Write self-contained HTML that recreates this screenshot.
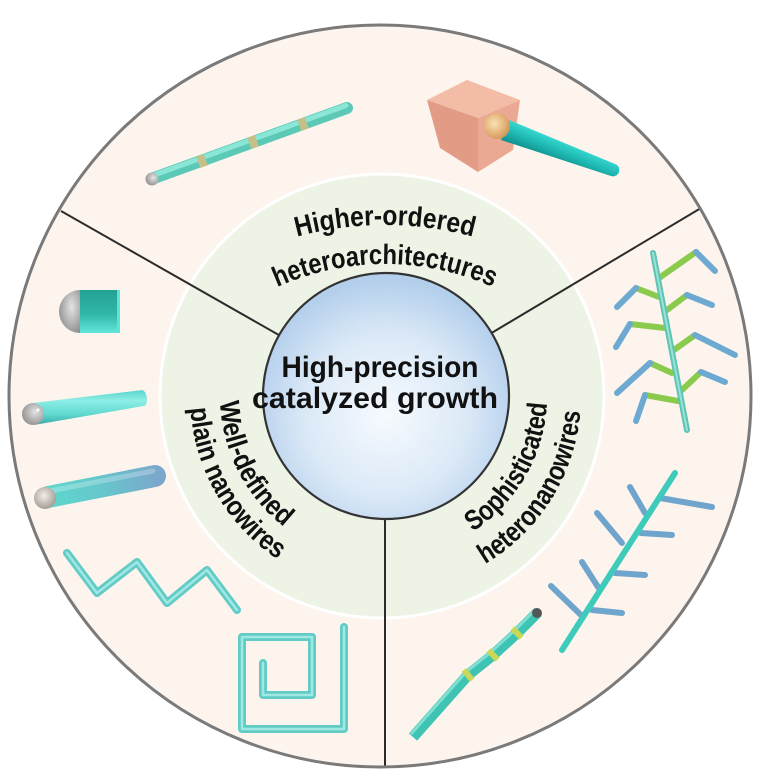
<!DOCTYPE html>
<html><head><meta charset="utf-8"><style>
html,body{margin:0;padding:0;background:#fff;}
svg{display:block;}
text{font-family:"Liberation Sans",sans-serif;font-weight:bold;fill:#111;}
</style></head><body>
<svg width="775" height="780" viewBox="0 0 775 780" xmlns="http://www.w3.org/2000/svg">
<defs>
<radialGradient id="blue" cx="50%" cy="58%" r="55%">
<stop offset="0" stop-color="#f6fafe"/><stop offset="0.6" stop-color="#dbe9f7"/><stop offset="1" stop-color="#b4cfec"/>
</radialGradient>
<linearGradient id="capT" x1="0" y1="0" x2="0" y2="1">
<stop offset="0" stop-color="#23a294"/><stop offset="0.55" stop-color="#2fb5a6"/><stop offset="1" stop-color="#62e6dc"/>
</linearGradient>
<radialGradient id="gray1" cx="60%" cy="40%" r="70%">
<stop offset="0" stop-color="#e4e4e4"/><stop offset="1" stop-color="#8a8a8a"/>
</radialGradient>
<radialGradient id="gray2" cx="45%" cy="40%" r="65%">
<stop offset="0" stop-color="#f2eee8"/><stop offset="1" stop-color="#9d958e"/>
</radialGradient>
<linearGradient id="taper" x1="0" y1="0" x2="0" y2="1">
<stop offset="0" stop-color="#5ad4ca"/><stop offset="0.3" stop-color="#8eeee6"/><stop offset="0.7" stop-color="#5fd8d0"/><stop offset="1" stop-color="#3aa8a6"/>
</linearGradient>
<linearGradient id="nw2" gradientUnits="userSpaceOnUse" x1="46" y1="498" x2="156" y2="476">
<stop offset="0" stop-color="#5ed8cc"/><stop offset="0.5" stop-color="#66c6cc"/><stop offset="1" stop-color="#7aa8cc"/>
</linearGradient>
<radialGradient id="ball" cx="40%" cy="40%" r="60%">
<stop offset="0" stop-color="#fbe6b4"/><stop offset="1" stop-color="#d79a5c"/>
</radialGradient>
<linearGradient id="cone" gradientUnits="userSpaceOnUse" x1="509" y1="120" x2="501" y2="140">
<stop offset="0" stop-color="#35d8d0"/><stop offset="0.5" stop-color="#1fb8b2"/><stop offset="1" stop-color="#0f8e8c"/>
</linearGradient>
</defs>

<!-- outer disk -->
<circle cx="380" cy="396" r="371" fill="#fdf4ee"/>
<!-- green ring -->
<circle cx="382" cy="396" r="222" fill="#edf3e5" stroke="#ffffff" stroke-width="3"/>
<!-- divider lines -->
<line x1="61" y1="211" x2="386" y2="396" stroke="#2b2b2b" stroke-width="2"/>
<line x1="701" y1="208" x2="386" y2="396" stroke="#2b2b2b" stroke-width="2"/>
<line x1="385" y1="396" x2="385" y2="768" stroke="#2b2b2b" stroke-width="2"/>
<circle cx="380" cy="396" r="371" fill="none" stroke="#7a7a7a" stroke-width="3"/>
<!-- center disk -->
<circle cx="386" cy="396" r="123" fill="url(#blue)" stroke="#333" stroke-width="2.2"/>

<!-- center text -->
<text x="380" y="377" font-size="30" text-anchor="middle" textLength="197" lengthAdjust="spacingAndGlyphs">High-precision</text>
<text x="375" y="408" font-size="30" text-anchor="middle" textLength="246" lengthAdjust="spacingAndGlyphs">catalyzed growth</text>

<!-- arc text paths -->
<path id="t1" d="M 250 253.4 A 335 335 0 0 1 520 253.4" fill="none"/>
<path id="t2" d="M 260 295.6 A 263 263 0 0 1 510 295.6" fill="none"/>
<path id="l1" d="M 224.3 358.7 A 166 166 0 0 0 321.1 548.8" fill="none"/>
<path id="l2" d="M 193.0 362.0 A 196 196 0 0 0 319.0 580.2" fill="none"/>
<path id="r1" d="M 441.1 547.3 A 161 161 0 0 0 544.6 368.0" fill="none"/>
<path id="r2" d="M 446.3 581.5 A 195 195 0 0 0 579.1 368.9" fill="none"/>

<text font-size="28"><textPath href="#t1" startOffset="50%" text-anchor="middle" textLength="178" lengthAdjust="spacingAndGlyphs">Higher-ordered</textPath></text>
<text font-size="28"><textPath href="#t2" startOffset="50%" text-anchor="middle" textLength="222" lengthAdjust="spacingAndGlyphs">heteroarchitectures</textPath></text>
<text font-size="28"><textPath href="#l1" startOffset="50%" text-anchor="middle" textLength="145" lengthAdjust="spacingAndGlyphs">Well-defined</textPath></text>
<text font-size="28"><textPath href="#l2" startOffset="50%" text-anchor="middle" textLength="181" lengthAdjust="spacingAndGlyphs">plain nanowires</textPath></text>
<text font-size="28"><textPath href="#r1" startOffset="50%" text-anchor="middle" textLength="154" lengthAdjust="spacingAndGlyphs">Sophisticated</textPath></text>
<text font-size="28"><textPath href="#r2" startOffset="50%" text-anchor="middle" textLength="187" lengthAdjust="spacingAndGlyphs">heteronanowires</textPath></text>

<!-- striped rod (top) -->
<line x1="154" y1="178" x2="347" y2="108" stroke="#5cc9b6" stroke-width="12" stroke-linecap="round"/>
<line x1="153" y1="175.5" x2="346" y2="105.5" stroke="#8ae6d6" stroke-width="5" stroke-linecap="round"/>
<line x1="198.2" y1="162.4" x2="205.8" y2="159.6" stroke="#c4c08a" stroke-width="12"/>
<line x1="249.2" y1="143.4" x2="256.8" y2="140.6" stroke="#c4c08a" stroke-width="12"/>
<line x1="299.2" y1="125.4" x2="306.8" y2="122.6" stroke="#c4c08a" stroke-width="12"/>
<circle cx="152" cy="179" r="6.5" fill="url(#gray1)"/>

<!-- cube with cone -->
<polygon points="427,100 467,80 520,100 478,118" fill="#f3bca6"/>
<polygon points="427,100 478,118 478,172 440,148" fill="#e29c86"/>
<polygon points="478,118 520,100 513,150 478,172" fill="#eba993"/>
<path d="M501 140 L509 120 L615 164 A6 6 0 0 1 611 176 Z" fill="url(#cone)"/>
<circle cx="497" cy="126" r="13" fill="url(#ball)" opacity="0.95"/>

<!-- capsule -->
<path d="M80 290 A21 21.5 0 0 0 80 333 Z" fill="url(#gray1)"/>
<rect x="80" y="290" width="40" height="43" fill="url(#capT)"/>
<rect x="117" y="290" width="3" height="43" fill="#5fe2d8"/>

<!-- tapered nanowire -->
<path d="M31.4 403.1 L141.8 390.1 A4 8 -8 0 1 144.2 405.9 L34.6 424.9 Z" fill="url(#taper)"/>
<circle cx="33" cy="414" r="11" fill="url(#gray1)"/>
<circle cx="38" cy="410" r="1.5" fill="#fff"/>

<!-- nanowire 2 -->
<line x1="48" y1="497" x2="155" y2="476" stroke="url(#nw2)" stroke-width="22" stroke-linecap="round"/>
<line x1="50" y1="491" x2="153" y2="471" stroke="#ffffff" stroke-opacity="0.25" stroke-width="5" stroke-linecap="round"/>
<circle cx="45" cy="498" r="11" fill="url(#gray2)"/>

<!-- zigzag -->
<polyline points="67,553 97,593 137,562 167,603 207,570 237,610" fill="none" stroke="#62cbc5" stroke-width="8" stroke-linejoin="round" stroke-linecap="round"/>
<polyline points="67,553 97,593 137,562 167,603 207,570 237,610" fill="none" stroke="#9fe8e3" stroke-width="2.5" stroke-linejoin="round" stroke-linecap="round"/>

<!-- spiral -->
<polyline points="344,627 344,729 242,729 242,637 312,637 312,695 263,695 263,663" fill="none" stroke="#62cbc5" stroke-width="8" stroke-linejoin="round" stroke-linecap="round"/>
<polyline points="344,627 344,729 242,729 242,637 312,637 312,695 263,695 263,663" fill="none" stroke="#9fe8e3" stroke-width="2.5" stroke-linejoin="round" stroke-linecap="round"/>

<!-- fern tree (right upper) -->
<g fill="none" stroke-linecap="round" stroke-linejoin="round" stroke-width="6">
<g stroke="#8acb4e">
<polyline points="659,278 696,252"/><polyline points="667,310 687,295"/><polyline points="674,350 695,335"/><polyline points="682,390 701,372"/>
<polyline points="659,297 636,288"/><polyline points="665,328 630,324"/><polyline points="672,373 650,363"/><polyline points="678,401 645,395"/>
</g>
<g stroke="#6ea9d2">
<polyline points="696,252 715,271"/><polyline points="687,295 712,305"/><polyline points="695,335 735,355"/><polyline points="701,372 725,382"/>
<polyline points="636,288 617,307"/><polyline points="630,324 616,347"/><polyline points="650,363 617,393"/><polyline points="645,395 636,421"/>
</g>
<line x1="653" y1="253" x2="687" y2="430" stroke="#5fc4b4"/>
<line x1="653" y1="253" x2="687" y2="430" stroke="#9ae2d6" stroke-width="2"/>
</g>

<!-- tree 2 (right lower) -->
<g fill="none" stroke-linecap="round" stroke-width="6" stroke="#6fa5cc">
<line x1="660" y1="498" x2="712" y2="507"/><line x1="641" y1="533" x2="672" y2="535"/>
<line x1="615" y1="573" x2="645" y2="575"/><line x1="592" y1="610" x2="622" y2="613"/>
<line x1="645" y1="513" x2="630" y2="487"/><line x1="622" y1="543" x2="597" y2="513"/>
<line x1="598" y1="587" x2="582" y2="562"/><line x1="583" y1="617" x2="551" y2="586"/>
</g>
<line x1="675" y1="473" x2="562" y2="650" stroke="#3ecbbb" stroke-width="6" stroke-linecap="round"/>

<!-- bottom nanowire -->
<polyline points="538,612 517,633 493,655 468,675 413,737" fill="none" stroke="#3fc3b3" stroke-width="11"/>
<polyline points="536,609 515,630 491,652 466,672 411,734" fill="none" stroke="#7fdfd3" stroke-width="3"/>
<line x1="519.1" y1="630.9" x2="514.9" y2="635.1" stroke="#c9d957" stroke-width="13"/>
<line x1="495.2" y1="652.9" x2="490.8" y2="657.1" stroke="#c9d957" stroke-width="13"/>
<line x1="470.3" y1="673.1" x2="465.7" y2="676.9" stroke="#c9d957" stroke-width="13"/>
<circle cx="537" cy="613" r="5" fill="#555"/>
</svg>
</body></html>
